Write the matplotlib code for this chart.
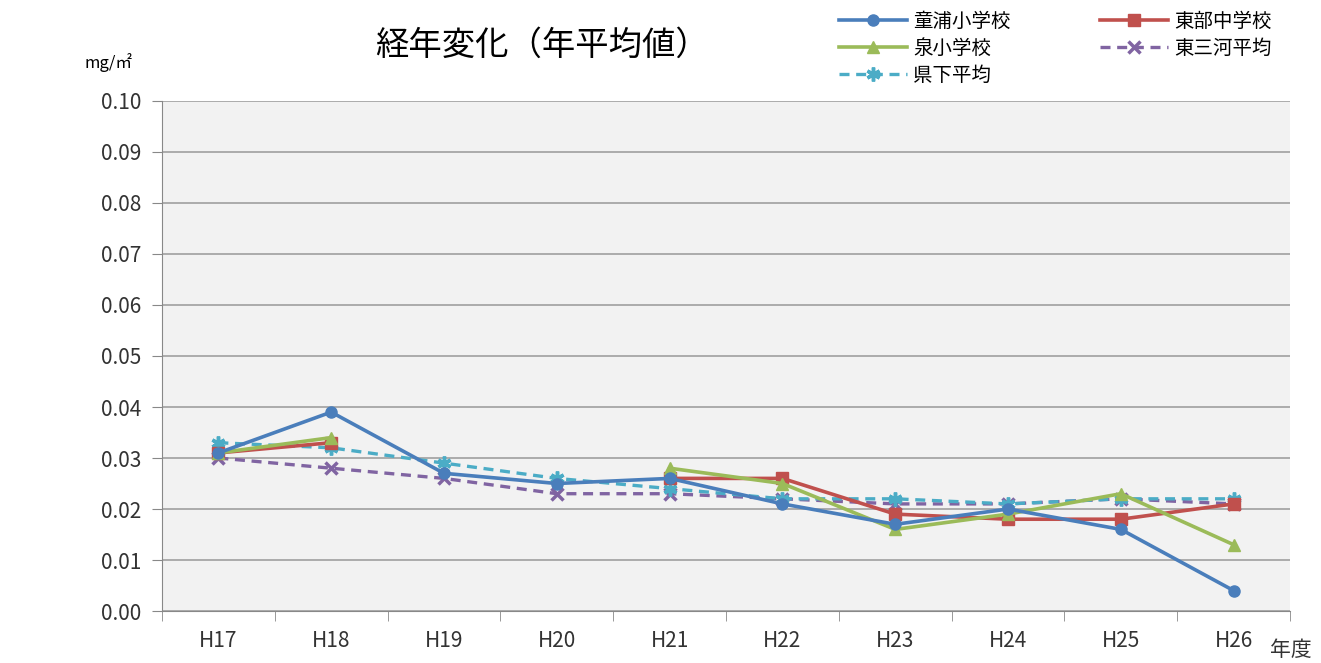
import matplotlib
matplotlib.use("Agg")
import matplotlib.pyplot as plt
import numpy as np

plt.rcParams['font.family'] = ['Noto Sans CJK JP', 'DejaVu Sans']

years = ["H17", "H18", "H19", "H20", "H21", "H22", "H23", "H24", "H25", "H26"]
nan = np.nan
douura = [0.031, 0.039, 0.027, 0.025, 0.026, 0.021, 0.017, 0.020, 0.016, 0.004]
toubu = [0.031, 0.033, nan, nan, 0.026, 0.026, 0.019, 0.018, 0.018, 0.021]
izumi = [0.031, 0.034, nan, nan, 0.028, 0.025, 0.016, 0.019, 0.023, 0.013]
higashimikawa = [0.030, 0.028, 0.026, 0.023, 0.023, 0.022, 0.021, 0.021, 0.022, 0.021]
kenka = [0.033, 0.032, 0.029, 0.026, 0.024, 0.022, 0.022, 0.021, 0.022, 0.022]

fig = plt.figure(figsize=(13.21, 6.63), dpi=100)
ax = fig.add_axes([0.1226, 0.0784, 0.854, 0.7693])
ax.set_facecolor('#f2f2f2')

x = np.arange(len(years))
h1, = ax.plot(x, douura, color='#4a7ebb', lw=2.6, marker='o', ms=8, label='童浦小学校', zorder=5)
h2, = ax.plot(x, toubu, color='#c0504d', lw=2.6, marker='s', ms=8, label='東部中学校', zorder=4)
h3, = ax.plot(x, izumi, color='#9bbb59', lw=2.6, marker='^', ms=9, label='泉小学校', zorder=4)
h4, = ax.plot(x, higashimikawa, color='#8064a2', lw=2.4, ls=(0, (3, 2)), marker='x', ms=8, mew=2.5,
              label='東三河平均', zorder=3)
h5, = ax.plot(x, kenka, color='#4bacc6', lw=2.4, ls=(0, (3, 2)), marker=(6, 2, 0), ms=10, mew=2.5,
              label='県下平均', zorder=3)

ax.set_xlim(-0.5, len(years) - 0.5)
ax.set_ylim(0, 0.10)
ax.set_yticks(np.arange(0, 0.101, 0.01))
ax.set_yticklabels([f"{v:.2f}" for v in np.arange(0, 0.101, 0.01)])
ax.set_xticks(x)
ax.set_xticklabels(years)
ax.set_xticks(np.arange(-0.5, len(years)), minor=True)
ax.tick_params(axis='x', which='major', length=0, pad=14, labelsize=15, colors='#333333')
ax.tick_params(axis='x', which='minor', length=7, color='#888888')
ax.tick_params(axis='y', length=7, color='#888888', labelsize=15, labelcolor='#333333', pad=8)
ax.grid(axis='y', color='#a0a0a0', lw=1.2)
ax.set_axisbelow(True)
for s in ['top', 'right']:
    ax.spines[s].set_visible(False)
ax.spines['left'].set_color('#888888')
ax.spines['bottom'].set_color('#888888')

fig.text(0.41, 0.932, '経年変化（年平均値）', fontsize=24, ha='center', va='center')
fig.text(0.064, 0.905, 'mg/㎡', fontsize=12, ha='left', va='center')
fig.text(0.977, 0.02, '年度', fontsize=15, ha='center', va='center', color='#333333')

fig.legend([h1, h3, h5, h2, h4], ['童浦小学校', '泉小学校', '県下平均', '東部中学校', '東三河平均'],
           loc='upper left', bbox_to_anchor=(0.622, 1.01), ncol=2, frameon=False,
           fontsize=14, handlelength=3.5, columnspacing=4.6, labelspacing=0.3,
           handletextpad=0.3)

fig.savefig('out.png', dpi=100)
